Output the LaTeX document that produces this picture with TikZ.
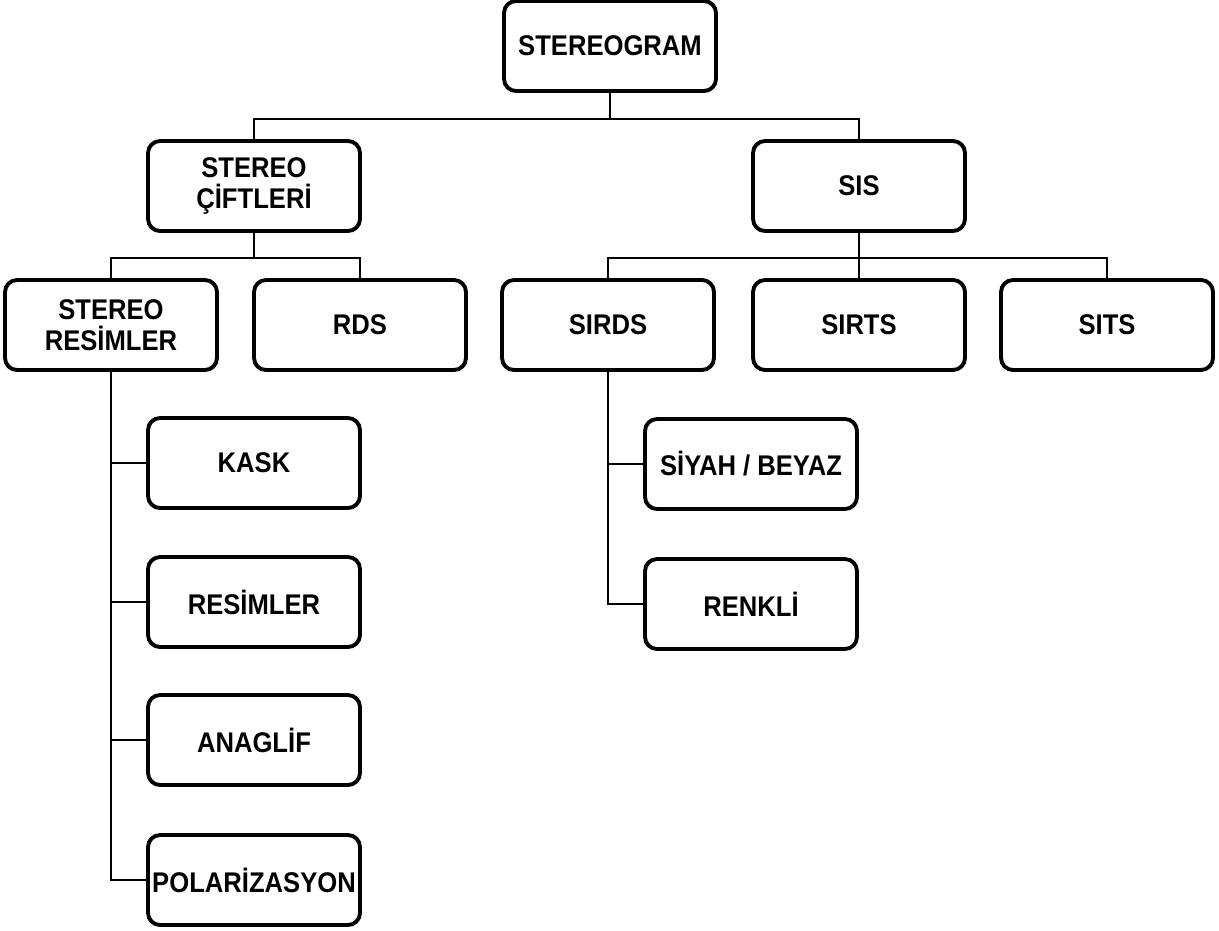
\documentclass[tikz,border=0pt]{standalone}
\usepackage{fontspec}
\setmainfont{Liberation Sans}[FakeStretch=0.9]
\usepackage{tikz}

\begin{document}
\begin{tikzpicture}[x=0.02cm, y=-0.02cm,
        every node/.style={draw, rounded corners=0.24cm, line width=2.2pt, minimum width=4.24cm, minimum height=1.8cm, inner sep=0pt, align=center, font=\bfseries\fontsize{16.2}{17.5}\selectfont}]
        \useasboundingbox (0,0) rectangle (1219,930);
        % Define the nodes
        \node (SG) at (610,46) {STEREOGRAM};
        \node (SC) at (254,186) {STEREO\\ÇİFTLERİ};
        \node (SIS) at (859,186) {SIS};
        \node (SR) at (111,325) {STEREO\\RESİMLER};
        \node (RDS) at (360,325) {RDS};
        \node (SIRDS) at (608,325) {SIRDS};
        \node (SIRTS) at (859,325) {SIRTS};
        \node (SITS) at (1107,325) {SITS};
        \node (KASK) at (254,463) {KASK};
        \node (RES) at (254,602) {RESİMLER};
        \node (ANA) at (254,740) {ANAGLİF};
        \node (POL) at (254,880) {POLARİZASYON};
        \node (SB) at (751,464) {SİYAH / BEYAZ};
        \node (REN) at (751,604) {RENKLİ};
    
        \begin{scope}[line width=1pt]
        \draw (SG.south) -- ++(0,26) -| (SC.north);
        \draw (SG.south) -- ++(0,26) -| (SIS.north);
        \draw (SC.south) -- ++(0,25) -| (SR.north);
        \draw (SC.south) -- ++(0,25) -| (RDS.north);
        \draw (SIS.south) -- ++(0,25) -| (SIRDS.north);
        \draw (SIS.south) -- ++(0,25) -| (SIRTS.north);
        \draw (SIS.south) -- ++(0,25) -| (SITS.north);
        \draw (SR.south) |- (KASK.west);
        \draw (SR.south) |- (RES.west);
        \draw (SR.south) |- (ANA.west);
        \draw (SR.south) |- (POL.west);
        \draw (SIRDS.south) |- (SB.west);
        \draw (SIRDS.south) |- (REN.west);
        \end{scope}
    \end{tikzpicture}
\end{document}
